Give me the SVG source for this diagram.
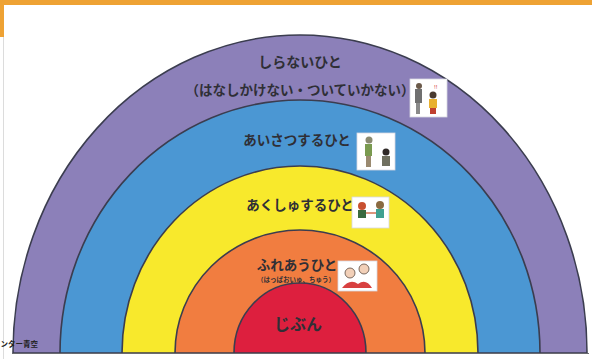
<svg xmlns="http://www.w3.org/2000/svg" width="592" height="359" viewBox="0 0 592 359">
  <style>
    .band { stroke: #3b3d4f; stroke-width: 1.6; }
    .lbl { font-family: "Noto Sans CJK JP", "Noto Sans", sans-serif; font-weight: 700; fill: #2f2f36; text-anchor: middle; }
    .pic { fill: #ffffff; stroke: #d8d8e0; stroke-width: 0.8; }
  </style>
  <rect x="0" y="0" width="592" height="359" fill="#ffffff"/>
  <!-- page frame -->
  <rect x="0" y="0" width="592" height="5" fill="#eea234"/>
  <rect x="0" y="0" width="4" height="37" fill="#eea234"/>
  <line x1="3.5" y1="37" x2="3.5" y2="359" stroke="#dcdcdc" stroke-width="1"/>

  <!-- rainbow bands, outermost first -->
  <g id="band-shiranai">
    <path class="band" d="M13,353 A287,318 0 0 1 587,353 Z" fill="#8c80b9"/>
  </g>
  <g id="band-aisatsu">
    <path class="band" d="M60,353 A240,253 0 0 1 540,353 Z" fill="#4b97d3"/>
  </g>
  <g id="band-akushu">
    <path class="band" d="M122,353 A178,187 0 0 1 478,353 Z" fill="#f8e92c"/>
  </g>
  <g id="band-fureau">
    <path class="band" d="M175,353 A125,123 0 0 1 425,353 Z" fill="#f17d40"/>
  </g>
  <g id="band-jibun">
    <path class="band" d="M234,353 A66,70 0 0 1 366,353 Z" fill="#dd1f3e"/>
  </g>
  <line x1="12" y1="353.5" x2="589" y2="353.5" stroke="#6a6a70" stroke-width="1.2"/>

  <!-- labels -->
  <g id="label-shiranai">
    <text class="lbl" x="300" y="67" font-size="14">しらないひと</text>
    <text class="lbl" x="300" y="95" font-size="13.5">（はなしかけない・ついていかない）</text>
    <g id="pic-shiranai">
      <rect class="pic" x="410" y="79" width="37" height="38"/>
      <circle cx="419" cy="86" r="3" fill="#6b5a4a"/>
      <rect x="415" y="89" width="7" height="14" fill="#707070"/>
      <rect x="416" y="103" width="4" height="11" fill="#8a8a8a"/>
      <circle cx="433" cy="95" r="3.5" fill="#4a3a30"/>
      <rect x="429" y="99" width="8" height="9" fill="#e8b030"/>
      <rect x="430" y="108" width="6" height="6" fill="#c04030"/>
      <text x="434" y="89" font-family="Liberation Sans, sans-serif" font-size="6" fill="#d03030">!!</text>
    </g>
  </g>
  <g id="label-aisatsu">
    <text class="lbl" x="297" y="145" font-size="13.5">あいさつするひと</text>
    <g id="pic-aisatsu">
      <rect class="pic" x="357" y="133" width="38" height="37"/>
      <circle cx="369" cy="140" r="3.5" fill="#8a8a70"/>
      <rect x="365" y="144" width="7" height="12" fill="#7a9a50"/>
      <rect x="366" y="156" width="5" height="11" fill="#9a8a70"/>
      <circle cx="386" cy="152" r="3.5" fill="#302a28"/>
      <rect x="382" y="156" width="8" height="10" fill="#707060"/>
    </g>
  </g>
  <g id="label-akushu">
    <text class="lbl" x="300" y="210" font-size="13.5">あくしゅするひと</text>
    <g id="pic-akushu">
      <rect class="pic" x="352" y="197" width="37" height="31"/>
      <circle cx="362" cy="206" r="4" fill="#c85030"/>
      <rect x="358" y="210" width="8" height="8" fill="#3a6a40"/>
      <circle cx="380" cy="205" r="4" fill="#8a6a40"/>
      <rect x="376" y="209" width="8" height="9" fill="#40a090"/>
      <line x1="366" y1="213" x2="376" y2="213" stroke="#d07050" stroke-width="1.5"/>
    </g>
  </g>
  <g id="label-fureau">
    <text class="lbl" x="297" y="270" font-size="13.5">ふれあうひと</text>
    <text class="lbl" x="296" y="282" font-size="6.5" font-weight="400">（はっぱおいゅ、ちゅう）</text>
    <g id="pic-fureau">
      <rect class="pic" x="338" y="261" width="39" height="30"/>
      <circle cx="350" cy="273" r="5" fill="#f2d0b8" stroke="#5a4a40" stroke-width="0.8"/>
      <circle cx="364" cy="269" r="5" fill="#f2d0b8" stroke="#5a4a40" stroke-width="0.8"/>
      <path d="M342,288 Q350,278 358,284 Q366,278 372,288 Z" fill="#d84040"/>
    </g>
  </g>
  <g id="label-jibun">
    <text class="lbl" x="298" y="330" font-size="16">じぶん</text>
  </g>

  <!-- footer credit -->
  <text x="0.5" y="347" font-family="Noto Sans CJK JP, sans-serif" font-size="7.5" font-weight="700" fill="#222">ンター青空</text>
</svg>
